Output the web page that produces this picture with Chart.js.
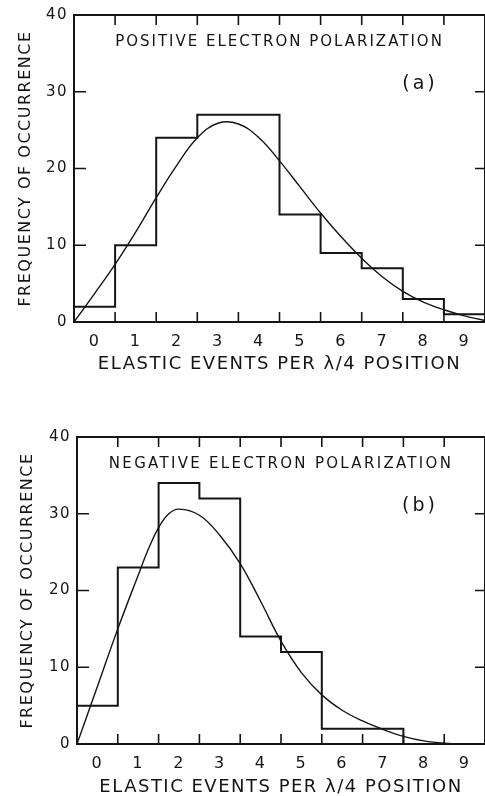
<!DOCTYPE html>
<html>
<head>
<meta charset="utf-8">
<title>Elastic events per position</title>
<script src="https://cdn.jsdelivr.net/npm/chart.js@4/dist/chart.umd.min.js"></script>
<style>
  html, body { margin: 0; padding: 0; background: #fff; }
  canvas { display: block; }
</style>
</head>
<body>
<canvas id="chartA" width="485" height="398"></canvas>
<canvas id="chartB" width="485" height="398"></canvas>
<script>
// bin centres on the x axis, and the frequency ticks
const eventBins = [0, 1, 2, 3, 4, 5, 6, 7, 8, 9];
const freqTicks = [0, 10, 20, 30, 40];

// observed counts per bin
const positiveCounts = [2, 10, 24, 27, 27, 14, 9, 7, 3, 1];
const negativeCounts = [5, 23, 34, 32, 14, 12, 2, 2, 0, 0];

// fitted curves
const positiveFitX = [-0.5, 0, 0.5, 1, 1.5, 2, 2.5, 3, 3.5, 4, 4.5, 5, 5.5, 6, 6.5, 7, 7.5, 8, 8.5, 9, 9.5];
const positiveFit = [0, 3.7, 7.5, 11.7, 16.2, 20.4, 24.0, 25.9, 25.8, 24.0, 21.0, 17.6, 14.2, 11.1, 8.3, 5.9, 4.0, 2.6, 1.6, 0.8, 0.2];
const negativeFitX = [-0.5, 0, 0.5, 1, 1.25, 1.5, 1.75, 2, 2.5, 3, 3.5, 4, 4.5, 5, 5.5, 6, 6.5, 7, 7.5, 8, 8.5, 9, 9.5];
const negativeFit = [0, 7.5, 15.0, 22.0, 25.4, 28.2, 30.0, 30.6, 29.8, 27.2, 23.5, 18.6, 13.4, 9.3, 6.4, 4.4, 3.0, 1.9, 1.0, 0.4, 0.1, 0, 0];

const xTitle = "ELASTIC EVENTS PER \u03bb/4 POSITION";
const yTitle = "FREQUENCY OF OCCURRENCE";

const INK = "#151515";
const FONT = "'DejaVu Sans', 'Liberation Sans', sans-serif";

// histogram outline: each count held across its bin
function stepPoints(counts) {
  const pts = counts.map((c, i) => ({ x: eventBins[i] - 0.5, y: c }));
  pts.push({ x: eventBins[eventBins.length - 1] + 0.5, y: counts[counts.length - 1] });
  return pts;
}

function curvePoints(xs, ys) {
  return xs.map((x, i) => ({ x: x, y: ys[i] }));
}

// box round the plot, inward tick marks, caption and panel letter
const framePlugin = {
  id: "frame",
  beforeDraw(chart) {
    chart.ctx.letterSpacing = "1.5px";
  },
  afterDatasetsDraw(chart, args, opts) {
    const { ctx, chartArea: a, scales: { x, y } } = chart;
    ctx.save();
    ctx.strokeStyle = INK;
    ctx.lineWidth = 2;
    ctx.strokeRect(a.left, a.top, a.right - a.left, a.bottom - a.top);

    ctx.lineWidth = 1.6;
    ctx.beginPath();
    eventBins.slice(0, -1).forEach(b => {
      const px = x.getPixelForValue(b + 0.5);
      ctx.moveTo(px, a.bottom);
      ctx.lineTo(px, a.bottom - 10);
      ctx.moveTo(px, a.top);
      ctx.lineTo(px, a.top + 10);
    });
    freqTicks.slice(1, -1).forEach(v => {
      const py = y.getPixelForValue(v);
      ctx.moveTo(a.left, py);
      ctx.lineTo(a.left + 12, py);
      ctx.moveTo(a.right, py);
      ctx.lineTo(a.right - 10, py);
    });
    ctx.stroke();

    ctx.fillStyle = INK;
    ctx.textAlign = "center";
    ctx.textBaseline = "middle";
    ctx.font = "15px " + FONT;
    ctx.letterSpacing = opts.spacing;
    ctx.fillText(opts.caption, (a.left + a.right) / 2, a.top + 27);
    ctx.font = "19px " + FONT;
    ctx.letterSpacing = "3px";
    ctx.fillText(opts.tag, a.right - 65, a.top + 69);
    ctx.restore();
  }
};

function makePanel(id, counts, fitX, fit, cfg) {
  return new Chart(document.getElementById(id), {
    type: "line",
    data: {
      datasets: [
        {
          data: stepPoints(counts),
          stepped: true,
          borderColor: INK,
          borderWidth: 2,
          pointRadius: 0,
          fill: false
        },
        {
          data: curvePoints(fitX, fit),
          tension: 0.4,
          borderColor: INK,
          borderWidth: 1.4,
          pointRadius: 0,
          fill: false
        }
      ]
    },
    plugins: [framePlugin],
    options: {
      responsive: false,
      animation: false,
      layout: { padding: cfg.padding },
      plugins: {
        legend: { display: false },
        tooltip: { enabled: false },
        frame: { caption: cfg.caption, tag: cfg.tag, spacing: cfg.spacing }
      },
      scales: {
        x: {
          type: "linear",
          min: -0.5,
          max: 9.5,
          afterBuildTicks: s => { s.ticks = eventBins.map(v => ({ value: v })); },
          afterFit: s => { s.height = cfg.xHeight; },
          grid: { display: false, drawTicks: false },
          border: { display: false },
          ticks: {
            padding: 10,
            color: INK,
            font: { family: FONT, size: 16 },
            callback: v => String(v)
          },
          title: {
            display: true,
            text: xTitle,
            color: INK,
            font: { family: FONT, size: 18, lineHeight: 1 },
            padding: { top: 0, bottom: cfg.xTitlePad }
          }
        },
        y: {
          type: "linear",
          min: 0,
          max: 40,
          afterBuildTicks: s => { s.ticks = freqTicks.map(v => ({ value: v })); },
          afterFit: s => { s.width = cfg.yWidth; },
          grid: { display: false, drawTicks: false },
          border: { display: false },
          ticks: {
            padding: 6,
            color: INK,
            font: { family: FONT, size: 15 },
            callback: v => String(v)
          },
          title: {
            display: true,
            text: yTitle,
            color: INK,
            font: { family: FONT, size: 16, lineHeight: 1 },
            padding: { top: cfg.yTitlePad, bottom: 0 }
          }
        }
      }
    }
  });
}

makePanel("chartA", positiveCounts, positiveFitX, positiveFit, {
  caption: "POSITIVE ELECTRON POLARIZATION",
  tag: "(a)",
  spacing: "2px",
  padding: { top: 15, right: 0, bottom: 0, left: 0 },
  xHeight: 76,
  xTitlePad: 25,
  yWidth: 74,
  yTitlePad: 17.5
});

makePanel("chartB", negativeCounts, negativeFitX, negativeFit, {
  caption: "NEGATIVE ELECTRON POLARIZATION",
  tag: "(b)",
  spacing: "2.3px",
  padding: { top: 39, right: -4, bottom: 0, left: 0 },
  xHeight: 52,
  xTitlePad: 0,
  yWidth: 77,
  yTitlePad: 19.5
});
</script>
</body>
</html>
